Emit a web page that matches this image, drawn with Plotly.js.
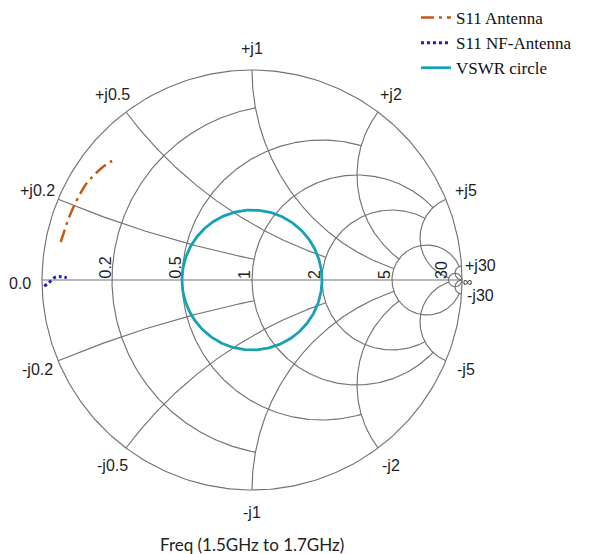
<!DOCTYPE html>
<html><head><meta charset="utf-8">
<script src="https://cdn.plot.ly/plotly-3.0.1.min.js"></script>
<style>html,body{margin:0;padding:0;background:#fff}</style>
</head><body><div id="chart" style="width:590px;height:554px"></div>
<script>
// Smith chart grid values (resistance circles and reactance arcs) and where each is cut off
const gridValues = [0.2, 0.5, 1, 2, 5, 30];
const gridLimits = [1, 2, 5, 5, 30, Infinity];
const realTickLabels = ['0.2', '0.5', '1', '2', '5', '30'];
const posImagTickLabels = ['+j0.2', '+j0.5', '+j1', '+j2', '+j5', '+j30'];
const negImagTickLabels = ['-j0.2', '-j0.5', '-j1', '-j2', '-j5', '-j30'];

// S11 of the antenna (reflection coefficient, real / imaginary), 1.5 GHz to 1.7 GHz
const s11AntennaRe = [-0.911, -0.895, -0.876, -0.852, -0.824, -0.790, -0.752, -0.710, -0.676, -0.648];
const s11AntennaIm = [0.181, 0.229, 0.286, 0.343, 0.400, 0.457, 0.500, 0.538, 0.562, 0.573];

// S11 of the NF-antenna
const s11NfRe = [-0.990, -0.967, -0.938, -0.910, -0.882];
const s11NfIm = [-0.029, -0.013, 0.013, 0.016, 0.011];

// VSWR circle value
const vswr = 2;

const seriesNames = ['S11 Antenna', 'S11 NF-Antenna', 'VSWR circle'];
const titleText = 'Freq (1.5GHz to 1.7GHz)';

// ---- helpers ----
function gammaOf(r, x) {
  if (!isFinite(r) || !isFinite(x)) return [1, 0];
  const den = (r + 1) * (r + 1) + x * x;
  return [(r * r - 1 + x * x) / den, 2 * x / den];
}
const gx = [], gy = [];
function pushArc(cx, cy, rad, a0, a1, n) {
  for (let i = 0; i <= n; i++) {
    const a = a0 + (a1 - a0) * i / n;
    gx.push(cx + rad * Math.cos(a)); gy.push(cy + rad * Math.sin(a));
  }
  gx.push(null); gy.push(null);
}
// outer circle
pushArc(0, 0, 1, 0, 2 * Math.PI, 360);
// real axis
gx.push(-1, 1, null); gy.push(0, 0, null);
gridValues.forEach((v, i) => {
  const L = gridLimits[i];
  // constant resistance circle
  const c = v / (1 + v), rad = 1 / (1 + v);
  const gL = gammaOf(v, L);
  const phiL = isFinite(L) ? Math.atan2(gL[1], gL[0] - c) : 0;
  pushArc(c, 0, rad, phiL, 2 * Math.PI - phiL, 300);
  // constant reactance arcs (+ and -)
  [v, -v].forEach(xv => {
    const cy = 1 / xv, rr = 1 / Math.abs(xv);
    const g0 = gammaOf(0, xv), g1 = gammaOf(L, xv);
    const a0 = Math.atan2(g0[1] - cy, g0[0] - 1);
    let a1 = isFinite(L) ? Math.atan2(g1[1] - cy, g1[0] - 1) : Math.atan2(-cy, 0);
    let d = a1 - a0;
    while (d > Math.PI) d -= 2 * Math.PI;
    while (d <= -Math.PI) d += 2 * Math.PI;
    pushArc(1, cy, rr, a0, a0 + d, 300);
  });
});

const vswrRadius = (vswr - 1) / (vswr + 1);
const vx = [], vy = [];
for (let i = 0; i <= 360; i++) { const a = i * Math.PI / 180; vx.push(vswrRadius * Math.cos(a)); vy.push(vswrRadius * Math.sin(a)); }

const gridColor = '#727272';
const traces = [
  { x: gx, y: gy, mode: 'lines', line: { color: gridColor, width: 1.15 }, showlegend: false, hoverinfo: 'skip' },
  { x: s11AntennaRe, y: s11AntennaIm, mode: 'lines', name: seriesNames[0], line: { color: '#c55a11', width: 2.5, dash: '13px,5px,3px,5px', shape: 'spline' } },
  { x: s11NfRe, y: s11NfIm, mode: 'lines', name: seriesNames[1], line: { color: '#1f1fb4', width: 3, dash: 'dot', shape: 'spline' } },
  { x: vx, y: vy, mode: 'lines', name: seriesNames[2], line: { color: '#17a0b6', width: 2.8 } }
];

const labelFont = { family: 'Liberation Sans, Arial, sans-serif', size: 16, color: '#1e1e1e' };
const ann = [];
const pxPerUnit = 210;
const k = 1 + 22 / pxPerUnit;
gridValues.forEach((v, i) => {
  const gp = gammaOf(0, v), gn = gammaOf(0, -v);
  const isLast = i === gridValues.length - 1;
  ann.push({ x: gp[0] * k, y: gp[1] * k, text: posImagTickLabels[i], showarrow: false, font: labelFont, xanchor: 'center', yanchor: 'middle', xshift: isLast ? -3 : 0, yshift: isLast ? -1 : 0 });
  ann.push({ x: gn[0] * k, y: gn[1] * k, text: negImagTickLabels[i], showarrow: false, font: labelFont, xanchor: 'center', yanchor: 'middle', xshift: isLast ? -3 : 0, yshift: 0 });
  const gr = gammaOf(v, 0);
  ann.push({ x: gr[0], y: 0, text: realTickLabels[i], textangle: -90, showarrow: false, font: labelFont, xanchor: 'right', yanchor: 'bottom', xshift: 3, yshift: -1 });
});
ann.push({ x: -k, y: 0, text: '0.0', showarrow: false, font: labelFont, xanchor: 'center', yanchor: 'middle', yshift: -3 });
ann.push({ x: 1, y: 0, text: '∞', showarrow: false, font: { family: 'Liberation Sans, DejaVu Sans, sans-serif', size: 13, color: '#1e1e1e' }, xanchor: 'left', yanchor: 'middle', xshift: 0, yshift: -1, borderpad: 0 });
ann.push({ xref: 'paper', yref: 'paper', x: 0.5, y: -0.024, text: titleText, showarrow: false,
  font: { family: 'Lato, Open Sans, sans-serif', size: 17, color: '#222' }, xanchor: 'center', yanchor: 'middle' });

const layout = {
  width: 590, height: 554,
  margin: { l: 0, r: 86, t: 28, b: 22, autoexpand: false },
  paper_bgcolor: '#fff', plot_bgcolor: 'rgba(0,0,0,0)',
  xaxis: { range: [-1.2, 1.2], visible: false, fixedrange: true },
  yaxis: { range: [-1.2, 1.2], visible: false, fixedrange: true, scaleanchor: 'x', scaleratio: 1 },
  showlegend: true,
  legend: { xref: 'container', yref: 'container', x: 0.705, y: 1.0, xanchor: 'left', yanchor: 'top',
    font: { family: 'Liberation Serif, Times New Roman, serif', size: 17, color: '#111' },
    bgcolor: 'rgba(0,0,0,0)', tracegroupgap: 0 },
  annotations: ann,
  hovermode: false
};
Plotly.newPlot('chart', traces, layout, { displayModeBar: false, staticPlot: true });
</script></body></html>
